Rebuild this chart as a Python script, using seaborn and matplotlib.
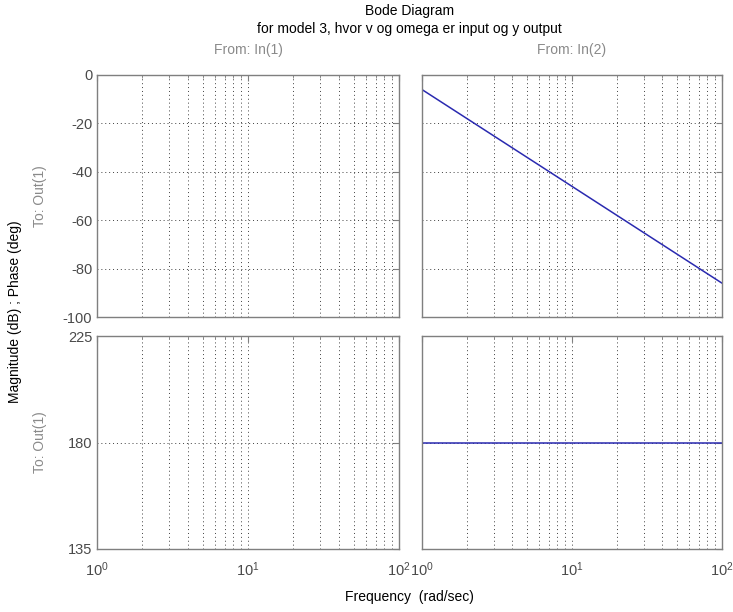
import matplotlib
matplotlib.use("Agg")
import matplotlib.pyplot as plt
import seaborn as sns
import pandas as pd
import numpy as np
from matplotlib.ticker import LogLocator, NullFormatter

sns.set_style("white")
plt.rcParams['font.family'] = ['Liberation Sans', 'DejaVu Sans']
plt.rcParams['axes.unicode_minus'] = False

# data
freq = [1, 10, 100]
mag_in2 = [-6.02, -46.02, -86.02]
phase_in2 = [180, 180, 180]
mag_ticks = [0, -20, -40, -60, -80, -100]
phase_ticks = [135, 180, 225]
col_titles = ["From: In(1)", "From: In(2)"]
row_label = "To: Out(1)"

df = pd.DataFrame({"freq": freq, "mag": mag_in2, "phase": phase_in2})

fig = plt.figure(figsize=(7.33, 6.12), dpi=100)
W, H = 733, 612
def box(l, t, r, b):
    return [l / W, 1 - b / H, (r - l) / W, (b - t) / H]

cols = [(97, 399), (422, 722)]
rows = [(75, 317), (336, 549)]
frame = "#7f7f7f"
txt = "#4a4a4a"
gray = "#8a8a8a"
axes = {}
for i, (t, b) in enumerate(rows):
    for j, (l, r) in enumerate(cols):
        ax = fig.add_axes(box(l, t, r, b))
        axes[(i, j)] = ax
        ax.set_xscale("log")
        ax.set_xlim(1, 100)
        if i == 0:
            ax.set_ylim(-100, 0)
            ax.set_yticks(mag_ticks)
        else:
            ax.set_ylim(135, 225)
            ax.set_yticks(phase_ticks)
        ax.xaxis.set_major_locator(LogLocator(base=10, numticks=10))
        ax.xaxis.set_minor_locator(LogLocator(base=10, subs=np.arange(2, 10), numticks=10))
        ax.xaxis.set_minor_formatter(NullFormatter())
        ax.grid(True, which="major", linestyle=(0, (1, 3)), color="#404040", linewidth=0.7)
        ax.grid(True, which="minor", axis="x", linestyle=(0, (1, 3)), color="#404040", linewidth=0.7)
        ax.tick_params(which="both", direction="in", top=True, right=True,
                       colors=frame, labelcolor=txt, labelsize=10.5)
        ax.tick_params(axis="x", which="major", labelsize=10.5, pad=8)
        ax.tick_params(which="major", length=4)
        ax.tick_params(which="minor", length=2.5)
        for s in ax.spines.values():
            s.set_color(frame)
            s.set_linewidth(1.0)
        if i == 0:
            ax.tick_params(labelbottom=False)
        if j == 1:
            ax.tick_params(labelleft=False)

sns.lineplot(data=df, x="freq", y="mag", ax=axes[(0, 1)], color="#2a2ab0", linewidth=1.1)
sns.lineplot(data=df, x="freq", y="phase", ax=axes[(1, 1)], color="#2a2ab0", linewidth=1.1)
for ax in axes.values():
    ax.set_xlabel("")
    ax.set_ylabel("")

fig.text(409.5 / W, 1 - 11 / H, "Bode Diagram", ha="center", va="center", fontsize=10, color="black")
fig.text(409.5 / W, 1 - 29 / H, "for model 3, hvor v og omega er input og y output",
         ha="center", va="center", fontsize=10, color="black")
fig.text(248 / W, 1 - 50 / H, col_titles[0], ha="center", va="center", fontsize=10, color=gray)
fig.text(572 / W, 1 - 50 / H, col_titles[1], ha="center", va="center", fontsize=10, color=gray)
fig.text(15 / W, 1 - 312 / H, "Magnitude (dB) ; Phase (deg)", ha="center", va="center",
         rotation=90, fontsize=10, color="black")
fig.text(40 / W, 1 - 196 / H, row_label, ha="center", va="center", rotation=90, fontsize=10, color=gray)
fig.text(40 / W, 1 - 442 / H, row_label, ha="center", va="center", rotation=90, fontsize=10, color=gray)
fig.text(409.5 / W, 1 - 597 / H, "Frequency  (rad/sec)", ha="center", va="center", fontsize=10, color="black")

fig.savefig("out.png", dpi=100)
